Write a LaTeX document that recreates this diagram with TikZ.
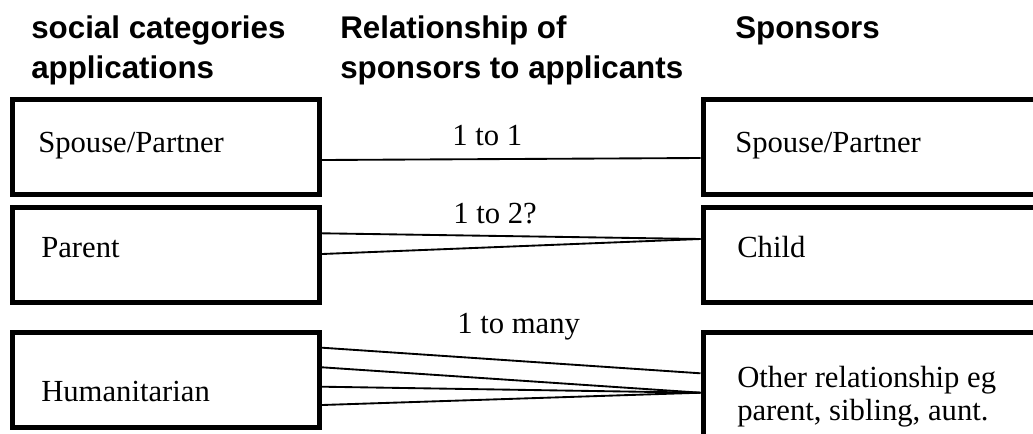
\documentclass[tikz,border=0pt]{standalone}
\usepackage{fontspec}
\setmainfont{Liberation Serif}
\setsansfont{Liberation Sans}
\usepackage{tikz}
\usetikzlibrary{calc}
\tikzset{
	catbox/.style={draw, line width=3.75pt, rectangle, minimum width=230.25pt, minimum height=71.25pt, inner sep=0},
	sponsbox/.style={draw, line width=3.75pt, rectangle, minimum width=285pt, inner sep=0},
	boxtext/.style={anchor=base west, inner sep=0, font=\fontsize{23}{25}\selectfont},
	headtext/.style={anchor=base west, inner sep=0, font=\sffamily\bfseries\fontsize{23.5}{30}\selectfont},
	link/.style={line width=1.4pt}
}

\begin{document}
\begin{tikzpicture}[x=0.75pt, y=-0.75pt]
		%%%%% START %%%%%
		\useasboundingbox (0, 0) rectangle (1033, 433);
		\clip (0, 0) rectangle (1033, 433);
		
		\node[headtext] (headA1) at (31, 38) {social categories};
		\node[headtext] (headA2) at (31, 78) {applications};
		\node[headtext] (headB1) at (340, 38) {Relationship of};
		\node[headtext] (headB2) at (340, 78) {sponsors to applicants};
		\node[headtext] (headC1) at (735, 38) {Sponsors};
		
		\node[catbox] (spouseA) at (166, 147) {};
		\node[catbox] (parentA) at (166, 255) {};
		\node[catbox] (humanA) at (166, 380) {};
		
		\node[sponsbox, minimum height=71.25pt] (spouseB) at (893, 147) {};
		\node[sponsbox, minimum height=71.25pt] (childB) at (893, 255) {};
		\node[sponsbox, minimum height=102.75pt] (otherB) at (893, 401) {};
		
		\node[boxtext] (spouseAtext) at (38, 152) {Spouse/Partner};
		\node[boxtext] (parentAtext) at (41, 257) {Parent};
		\node[boxtext] (humanAtext) at (41, 401) {Humanitarian};
		\node[boxtext] (spouseBtext) at (735, 152) {Spouse/Partner};
		\node[boxtext] (childBtext) at (737, 257) {Child};
		\node[boxtext] (otherBtextA) at (737, 387) {Other relationship eg};
		\node[boxtext] (otherBtextB) at (737, 420.7) {parent, sibling, aunt.};
		
		\node[boxtext] (oneone) at (452, 145) {1 to 1};
		\node[boxtext] (onetwo) at (453, 223) {1 to 2?};
		\node[boxtext] (onemany) at (457, 333) {1 to many};
		
		% 1 to 1
		\draw[link] ($(spouseA.north east)+(0, 63)$) -- ($(spouseB.north west)+(0, 61)$);
		
		% 1 to 2?
		\draw[link] ($(parentA.north east)+(0, 28.3)$) -- ($(childB.north west)+(0, 34)$);
		\draw[link] ($(parentA.north east)+(0, 49)$) -- ($(childB.north west)+(0, 34)$);
		
		% 1 to many
		\draw[link] ($(humanA.north east)+(0, 17.7)$) -- ($(otherB.north west)+(0, 43.3)$);
		\foreach \dy in {37.3, 56.7, 75}
			\draw[link] ($(humanA.north east)+(0, \dy)$) -- ($(otherB.north west)+(0, 62.7)$);
		%%%%% END %%%%%
	\end{tikzpicture}
\end{document}
